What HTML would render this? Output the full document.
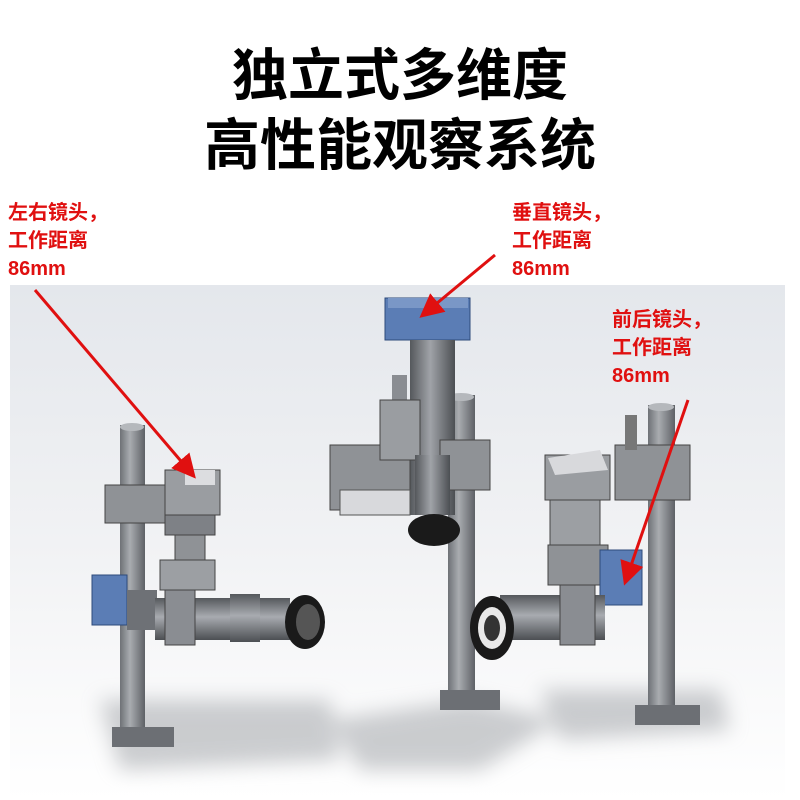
<!DOCTYPE html>
<html><head><meta charset="utf-8"><style>
html,body{margin:0;padding:0;width:800px;height:800px;overflow:hidden;background:#fff}
svg{display:block}
.t{font-family:"Liberation Sans","Noto Sans CJK SC",sans-serif;font-weight:bold}
</style></head><body>
<svg width="800" height="800" viewBox="0 0 800 800" xmlns="http://www.w3.org/2000/svg">
<defs>
<linearGradient id="bg" x1="0" y1="0" x2="0" y2="1">
<stop offset="0" stop-color="#e4e7ec"/><stop offset="0.5" stop-color="#f1f2f4"/><stop offset="1" stop-color="#ffffff"/>
</linearGradient>
<linearGradient id="post" x1="0" y1="0" x2="1" y2="0">
<stop offset="0" stop-color="#6e7176"/><stop offset="0.4" stop-color="#a9acb0"/><stop offset="1" stop-color="#5e6166"/>
</linearGradient>
<linearGradient id="lensv" x1="0" y1="0" x2="1" y2="0">
<stop offset="0" stop-color="#55585c"/><stop offset="0.45" stop-color="#a0a3a8"/><stop offset="1" stop-color="#4c4f53"/>
</linearGradient>
<linearGradient id="lensh" x1="0" y1="0" x2="0" y2="1">
<stop offset="0" stop-color="#55585c"/><stop offset="0.45" stop-color="#a8abb0"/><stop offset="1" stop-color="#4c4f53"/>
</linearGradient>
<filter id="blur" x="-30%" y="-50%" width="160%" height="200%"><feGaussianBlur stdDeviation="10"/></filter>
<marker id="ah" markerWidth="8" markerHeight="8" refX="6" refY="4" orient="auto" markerUnits="strokeWidth">
<path d="M0,0 L8,4 L0,8 z" fill="#e01010"/></marker>
</defs>
<rect x="10" y="285" width="775" height="515" fill="url(#bg)"/>

<g fill="#9a9da2" opacity="0.5" filter="url(#blur)">
<path d="M100,700 L330,700 L340,760 L120,770 z"/>
<path d="M330,720 L470,700 L560,720 L480,770 L360,770 z"/>
<path d="M540,690 L720,690 L730,730 L560,740 z"/>
</g>

<text class="t" x="400" y="95" font-size="56" text-anchor="middle" fill="#000">独立式多维度</text>
<text class="t" x="400" y="165" font-size="56" text-anchor="middle" fill="#000">高性能观察系统</text>

<g class="t" fill="#e01010" font-size="20">
<text x="8" y="219">左右镜头，</text><text x="8" y="247">工作距离</text><text x="8" y="275">86mm</text>
<text x="512" y="219">垂直镜头，</text><text x="512" y="247">工作距离</text><text x="512" y="275">86mm</text>
<text x="612" y="326">前后镜头，</text><text x="612" y="354">工作距离</text><text x="612" y="382">86mm</text>
</g>

<rect x="120" y="425" width="25" height="310" fill="url(#post)"/>
<ellipse cx="132" cy="427" rx="12" ry="4" fill="#b5b8bc"/>
<rect x="112" y="727" width="62" height="20" fill="#6c6f74"/>
<rect x="105" y="485" width="60" height="38" fill="#8f9296" stroke="#444" stroke-width="1"/>
<rect x="165" y="470" width="55" height="45" fill="#9a9da1" stroke="#444"/>
<rect x="185" y="470" width="30" height="15" fill="#dcdde0"/>
<rect x="165" y="515" width="50" height="20" fill="#7e8186" stroke="#444"/>
<rect x="175" y="535" width="30" height="25" fill="#8f9296" stroke="#444"/>
<rect x="160" y="560" width="55" height="30" fill="#9c9fa3" stroke="#444"/>
<rect x="92" y="575" width="35" height="50" fill="#5b7db5" stroke="#2e4a7a"/>
<rect x="127" y="590" width="30" height="40" fill="#6e7176"/>
<rect x="155" y="598" width="135" height="42" fill="url(#lensh)"/>
<rect x="165" y="590" width="30" height="55" fill="#8a8d92" stroke="#444"/>
<rect x="230" y="594" width="30" height="48" fill="url(#lensh)"/>
<ellipse cx="305" cy="622" rx="20" ry="27" fill="#1a1a1a"/>
<ellipse cx="308" cy="622" rx="12" ry="18" fill="#555"/>

<rect x="448" y="395" width="27" height="305" fill="url(#post)"/>
<ellipse cx="461" cy="397" rx="13" ry="4" fill="#b5b8bc"/>
<rect x="440" y="690" width="60" height="20" fill="#6c6f74"/>
<rect x="385" y="298" width="85" height="42" fill="#5b7db5" stroke="#2e4a7a"/>
<rect x="388" y="298" width="80" height="10" fill="#7a97c6"/>
<rect x="410" y="340" width="45" height="175" fill="url(#lensv)"/>
<rect x="392" y="375" width="15" height="50" fill="#8a8d92"/>
<rect x="330" y="445" width="80" height="65" fill="#8f9296" stroke="#444"/>
<rect x="340" y="490" width="70" height="25" fill="#d8d9dc" stroke="#555"/>
<rect x="380" y="400" width="40" height="60" fill="#9a9da1" stroke="#444"/>
<rect x="440" y="440" width="50" height="50" fill="#8f9296" stroke="#444"/>
<rect x="415" y="455" width="35" height="60" fill="url(#lensv)"/>
<ellipse cx="434" cy="530" rx="26" ry="16" fill="#1a1a1a"/>

<rect x="648" y="405" width="27" height="310" fill="url(#post)"/>
<ellipse cx="661" cy="407" rx="13" ry="4" fill="#b5b8bc"/>
<rect x="635" y="705" width="65" height="20" fill="#6c6f74"/>
<rect x="545" y="455" width="65" height="45" fill="#9a9da1" stroke="#444"/>
<path d="M548,458 L600,450 L608,470 L555,475 z" fill="#d8d9dc"/>
<rect x="615" y="445" width="75" height="55" fill="#8f9296" stroke="#444"/>
<rect x="625" y="415" width="12" height="35" fill="#777"/>
<rect x="550" y="500" width="50" height="45" fill="#9c9fa3" stroke="#444"/>
<rect x="548" y="545" width="60" height="40" fill="#8f9296" stroke="#444"/>
<rect x="600" y="550" width="42" height="55" fill="#5b7db5" stroke="#2e4a7a"/>
<rect x="500" y="595" width="105" height="45" fill="url(#lensh)"/>
<rect x="560" y="585" width="35" height="60" fill="#8a8d92" stroke="#444"/>
<ellipse cx="492" cy="628" rx="22" ry="32" fill="#1a1a1a"/>
<ellipse cx="492" cy="628" rx="14" ry="21" fill="#e8e8e8"/>
<ellipse cx="492" cy="628" rx="8" ry="13" fill="#333"/>

<g stroke="#e01010" stroke-width="3" fill="none">
<line x1="35" y1="290" x2="192" y2="474" marker-end="url(#ah)"/>
<line x1="495" y1="255" x2="424" y2="314" marker-end="url(#ah)"/>
<line x1="688" y1="400" x2="626" y2="580" marker-end="url(#ah)"/>
</g>
</svg>
</body></html>
